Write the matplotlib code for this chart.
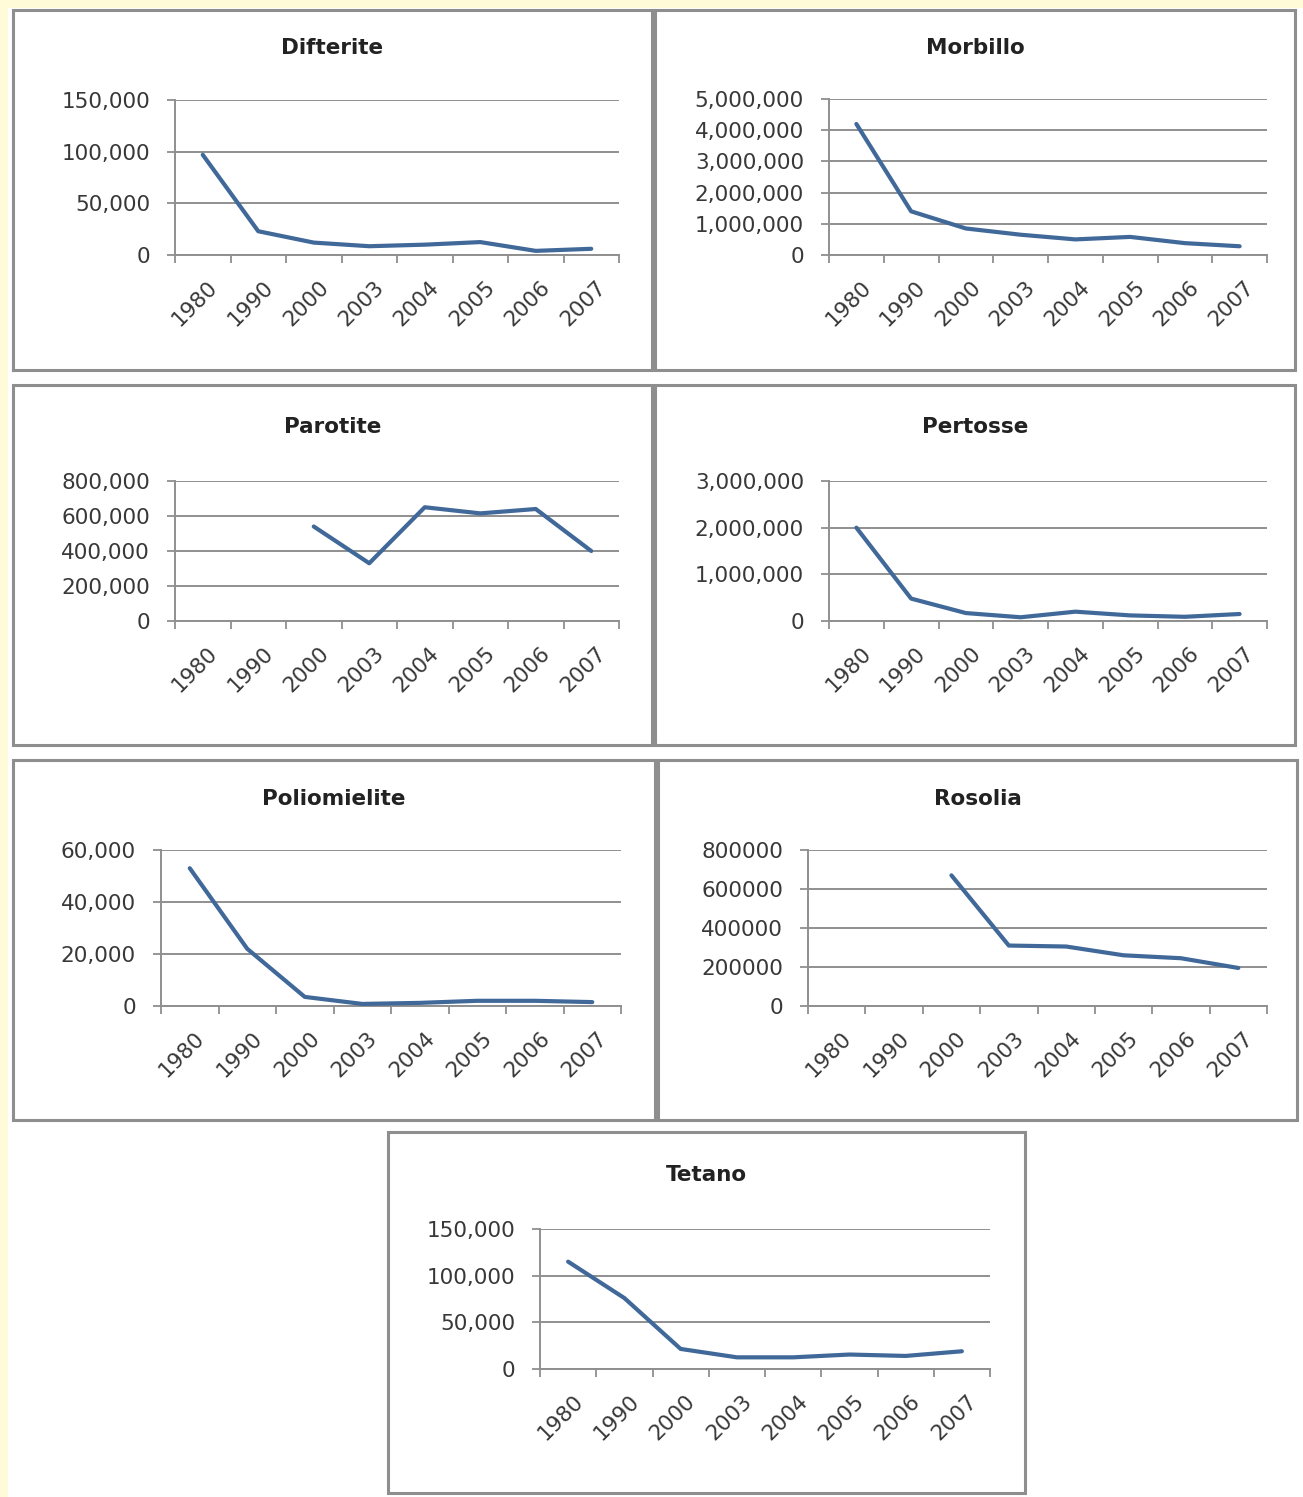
import numpy as np
import matplotlib
matplotlib.use("Agg")
import matplotlib.pyplot as plt
from matplotlib.patches import Rectangle
from matplotlib.ticker import FuncFormatter, MultipleLocator

# ---- data -------------------------------------------------------------
years = ["1980", "1990", "2000", "2003", "2004", "2005", "2006", "2007"]

difterite = [97000, 23000, 12000, 8500, 10000, 12500, 4000, 6000]
morbillo = [4200000, 1400000, 850000, 650000, 500000, 580000, 380000, 280000]
parotite = [np.nan, np.nan, 540000, 330000, 650000, 615000, 640000, 400000]
pertosse = [2000000, 480000, 170000, 80000, 200000, 120000, 90000, 150000]
poliomielite = [53000, 22000, 3500, 800, 1200, 2000, 2000, 1500]
rosolia = [np.nan, np.nan, 670000, 310000, 305000, 260000, 245000, 195000]
tetano = [115000, 76000, 21500, 12500, 12500, 15500, 14000, 19000]

titles = ["Difterite", "Morbillo", "Parotite", "Pertosse",
          "Poliomielite", "Rosolia", "Tetano"]
series = [difterite, morbillo, parotite, pertosse, poliomielite, rosolia, tetano]
y_max = [150000, 5000000, 800000, 3000000, 60000, 800000, 150000]
y_step = [50000, 1000000, 200000, 1000000, 20000, 200000, 50000]
use_commas = [True, True, True, True, True, False, True]

# ---- layout (pixels) ---------------------------------------------------
W, H = 1303, 1497
# frame boxes: (left, top, right, bottom)
boxes = [
    (13, 10, 652, 370), (655, 10, 1295, 370),
    (13, 385, 652, 745), (655, 385, 1295, 745),
    (13, 760, 655, 1120), (658, 760, 1297, 1120),
    (388, 1132, 1025, 1493),
]
# plot areas: (left, top, right, bottom)
plots = [
    (175, 100, 619, 255), (829, 99, 1267, 255),
    (175, 481, 619, 621), (829, 481, 1267, 621),
    (161, 850, 621, 1006), (808, 850, 1267, 1006),
    (540, 1229, 990, 1369),
]
title_y = [48, 48, 427, 427, 799, 799, 1175]

LINE = "#40699a"
GRID = "#8f8f8f"
TEXT = "#383838"
FONT = "DejaVu Sans"
TICK_SIZE = 15.5

fig = plt.figure(figsize=(W / 100, H / 100), dpi=100)
fig.patch.set_facecolor("white")

# thin pale-yellow margin along the top and left edges
fig.add_artist(Rectangle((0, 1 - 8 / H), 1, 8 / H, transform=fig.transFigure,
                         facecolor="#fffbd8", edgecolor="none", zorder=0))
fig.add_artist(Rectangle((0, 0), 8 / W, 1, transform=fig.transFigure,
                         facecolor="#fffbd8", edgecolor="none", zorder=0))


def fx(px):
    return px / W


def fy(py):
    return 1 - py / H


def comma_fmt(v, _):
    return f"{int(round(v)):,}"


def plain_fmt(v, _):
    return f"{int(round(v))}"


x = np.arange(len(years))

for i in range(len(titles)):
    l, t, r, b = boxes[i]
    fig.add_artist(Rectangle((fx(l), fy(b)), fx(r - l), (b - t) / H,
                             transform=fig.transFigure, facecolor="white",
                             edgecolor="#8e8e8e", linewidth=2.2, zorder=1))
    fig.text(fx((l + r) / 2), fy(title_y[i]), titles[i], ha="center",
             va="center", fontsize=15.5, fontweight="bold", color="#222222",
             family=FONT, zorder=3)

    pl, pt, pr, pb = plots[i]
    ax = fig.add_axes([fx(pl), fy(pb), fx(pr - pl), (pb - pt) / H])
    ax.set_zorder(2)
    ax.patch.set_alpha(0)

    ax.plot(x, series[i], color=LINE, linewidth=3.0, solid_capstyle="round",
            solid_joinstyle="round", zorder=3)

    ax.set_xlim(-0.5, len(years) - 0.5)
    ax.set_ylim(0, y_max[i])
    ax.yaxis.set_major_locator(MultipleLocator(y_step[i]))
    ax.yaxis.set_major_formatter(FuncFormatter(comma_fmt if use_commas[i] else plain_fmt))
    ax.grid(axis="y", color=GRID, linewidth=1.4, zorder=1)
    ax.set_axisbelow(True)

    # category boundaries carry the tick marks, labels sit at the centres
    ax.set_xticks(np.arange(-0.5, len(years)), minor=False)
    ax.set_xticklabels([])
    ax.set_xticks(x + 0.08, minor=True)
    ax.set_xticklabels(years, minor=True, rotation=45, ha="right",
                       rotation_mode="anchor", fontsize=TICK_SIZE, color=TEXT,
                       family=FONT)
    ax.tick_params(axis="x", which="major", length=6, width=1.3, color=GRID,
                   direction="out")
    ax.tick_params(axis="x", which="minor", length=0, pad=16)
    ax.tick_params(axis="y", length=6, width=1.3, color=GRID, direction="out",
                   labelsize=TICK_SIZE, labelcolor=TEXT, pad=12)
    for lab in ax.get_yticklabels():
        lab.set_family(FONT)

    for side in ("top", "right"):
        ax.spines[side].set_visible(False)
    for side in ("left", "bottom"):
        ax.spines[side].set_color(GRID)
        ax.spines[side].set_linewidth(1.4)

fig.savefig("out.png", dpi=100, facecolor=fig.get_facecolor())
